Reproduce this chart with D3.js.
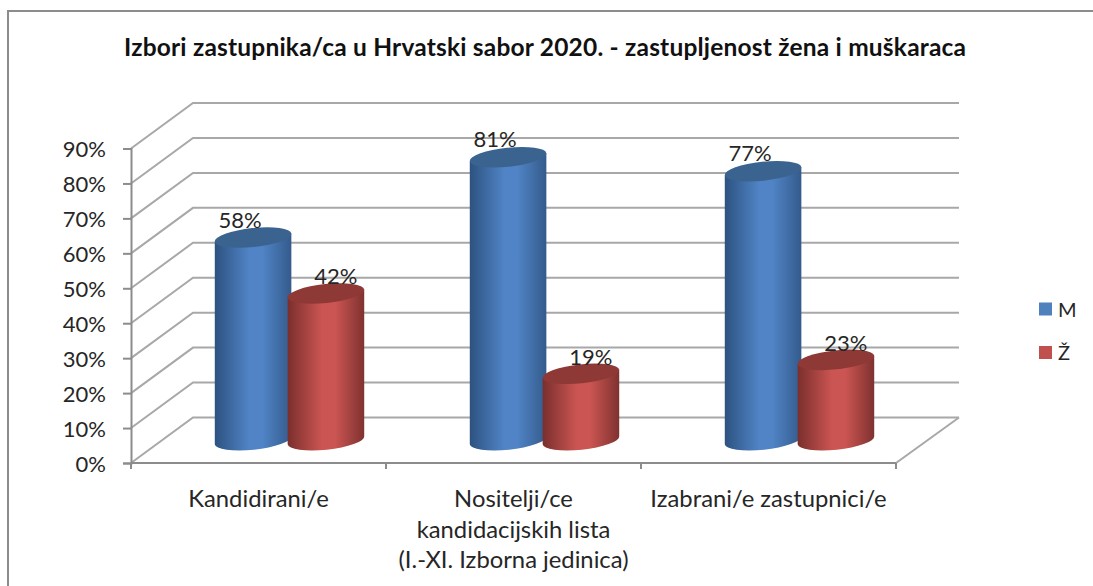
<!DOCTYPE html>
<html>
<head>
<meta charset="utf-8">
<script src="https://cdnjs.cloudflare.com/ajax/libs/d3/7.8.5/d3.min.js"></script>
<style>
  html, body { margin: 0; padding: 0; background: #fff; overflow: hidden; }
  svg { display: block; }
  text { font-family: Lato, "Open Sans", sans-serif; fill: #262626; }
  .grid { fill: none; stroke: #a8a8a8; stroke-width: 2px; }
  .axis path, .axis line { stroke: #8c8c8c; stroke-width: 2px; }
</style>
</head>
<body>
<script>
const categories = ['Kandidirani/e', 'Nositelji/ce\nkandidacijskih lista\n(I.-XI. Izborna jedinica)', 'Izabrani/e zastupnici/e'];
const seriesNames = ['M', 'Ž'];
const valuesM = [58, 81, 77];
const valuesZ = [42, 19, 23];
const yTicks = [0, 10, 20, 30, 40, 50, 60, 70, 80, 90];

const config = { width: 1093, height: 586, left: 131, right: 896, bottom: 463, top: 148.5 };
// oblique depth of the 3d box
const depth = { dx: 62, dy: 45.5 };
const cyl = { rx: 38.5, ry: 9.5, tilt: -6 };

const colors = {
  M: { edgeL: '#2d5280', mid: '#5084c6', edgeR: '#345b8c', top: '#3b6390' },
  'Ž': { edgeL: '#7a2f2d', mid: '#cb5552', edgeR: '#7f3230', top: '#8f3937' }
};

const svg = d3.select('body').append('svg')
  .attr('width', config.width)
  .attr('height', config.height);

svg.append('rect').attr('width', config.width).attr('height', config.height).attr('fill', '#fff');

// outer frame runs off the page on the right and at the bottom
svg.append('rect')
  .attr('x', 8).attr('y', 11)
  .attr('width', config.width + 20).attr('height', config.height + 20)
  .attr('fill', 'none').attr('stroke', '#8c8c8c').attr('stroke-width', 2);

svg.append('text')
  .attr('x', 545).attr('y', 56)
  .attr('text-anchor', 'middle')
  .attr('font-size', 24.5).attr('font-weight', 700)
  .attr('textLength', 842)
  .style('fill', '#111')
  .text('Izbori zastupnika/ca u Hrvatski sabor 2020. - zastupljenost žena i muškaraca');

const y = d3.scaleLinear().domain([0, 90]).range([config.bottom, config.top]);
const x = d3.scaleBand().domain(categories).range([config.left, config.right]);
const inner = d3.scaleBand().domain(seriesNames).range([0, x.bandwidth()]).paddingInner(0).paddingOuter(0.75);

// gridlines: side wall then back wall
const gridLine = d3.line();
svg.append('g').selectAll('path').data(yTicks).join('path')
  .attr('class', 'grid')
  .attr('d', d => gridLine([
    [config.left, y(d)],
    [config.left + depth.dx, y(d) - depth.dy],
    [config.right + depth.dx + 1, y(d) - depth.dy]
  ]));

// floor edge on the right
svg.append('path').attr('class', 'grid')
  .attr('d', gridLine([[config.right, config.bottom], [config.right + depth.dx + 1, config.bottom - depth.dy]]));

const yAxis = d3.axisLeft(y).tickValues(yTicks).tickFormat(d => d + '%').tickSize(8).tickPadding(17);
const yG = svg.append('g').attr('class', 'axis')
  .attr('transform', `translate(${config.left},0)`)
  .call(yAxis);
yG.selectAll('text').attr('font-size', 22).attr('dy', '0.38em').style('fill', '#262626');

// bottom axis, ticks sit at band edges
const xG = svg.append('g').attr('class', 'axis');
xG.append('line')
  .attr('x1', config.left).attr('x2', config.right)
  .attr('y1', config.bottom).attr('y2', config.bottom);
xG.selectAll('.tick').data(categories.concat(null)).join('line')
  .attr('class', 'tick')
  .attr('x1', d => d === null ? config.right : x(d))
  .attr('x2', d => d === null ? config.right : x(d))
  .attr('y1', config.bottom).attr('y2', config.bottom + 6);

const labels = svg.append('g').selectAll('text').data(categories).join('text')
  .attr('text-anchor', 'middle')
  .attr('font-size', 23.8);
labels.selectAll('tspan').data(d => d.split('\n').map(t => ({ t, c: d }))).join('tspan')
  .attr('x', d => x(d.c) + x.bandwidth() / 2)
  .attr('y', (d, i) => 507 + i * 30.5)
  .text(d => d.t);

// gradients
const defs = svg.append('defs');
seriesNames.forEach((s, i) => {
  const g = defs.append('linearGradient').attr('id', 'cyl' + i);
  g.append('stop').attr('offset', '0%').attr('stop-color', colors[s].edgeL);
  g.append('stop').attr('offset', '45%').attr('stop-color', colors[s].mid);
  g.append('stop').attr('offset', '62%').attr('stop-color', colors[s].mid);
  g.append('stop').attr('offset', '100%').attr('stop-color', colors[s].edgeR);
});

const rows = [];
categories.forEach((c, i) => {
  rows.push({ c, s: 'M', si: 0, v: valuesM[i] });
  rows.push({ c, s: 'Ž', si: 1, v: valuesZ[i] });
});

const rad = cyl.tilt * Math.PI / 180;
const ax = cyl.rx * Math.cos(rad), ay = cyl.rx * Math.sin(rad);
const cx = d => x(d.c) + inner(d.s) + inner.bandwidth() / 2 + depth.dx / 2;
const yBase = y(0) - depth.dy / 2;
const yTop = d => y(d.v) - depth.dy / 2;

const bars = svg.append('g').selectAll('g').data(rows).join('g');

// body
bars.append('path')
  .attr('fill', d => `url(#cyl${d.si})`)
  .attr('d', d => {
    const c = cx(d), t = yTop(d);
    return `M${c - ax},${t - ay}L${c - ax},${yBase - ay}` +
      `A${cyl.rx},${cyl.ry} ${cyl.tilt} 0 0 ${c + ax},${yBase + ay}` +
      `L${c + ax},${t + ay}Z`;
  });

// top cap
bars.append('ellipse')
  .attr('rx', cyl.rx).attr('ry', cyl.ry)
  .attr('fill', d => colors[d.s].top)
  .attr('transform', d => `translate(${cx(d)},${yTop(d)}) rotate(${cyl.tilt})`);

// data labels
svg.append('g').selectAll('text').data(rows).join('text')
  .attr('text-anchor', 'middle')
  .attr('font-size', 22)
  .attr('x', d => cx(d) + (d.si === 0 ? -13 : 10))
  .attr('y', d => yTop(d) - (d.si === 0 ? 10 : 9))
  .text(d => d.v + '%');

// legend
const legendY = d3.scalePoint().domain(seriesNames).range([309, 352.5]);
const legend = svg.append('g').selectAll('g').data(seriesNames).join('g')
  .attr('transform', d => `translate(1039,${legendY(d)})`);
legend.append('rect')
  .attr('y', -6.5).attr('width', 13).attr('height', 13)
  .attr('fill', d => d === 'M' ? '#4f81bd' : '#c0504d');
legend.append('text')
  .attr('x', 19).attr('y', 7.5).attr('font-size', 20)
  .text(d => d);
</script>
</body>
</html>
